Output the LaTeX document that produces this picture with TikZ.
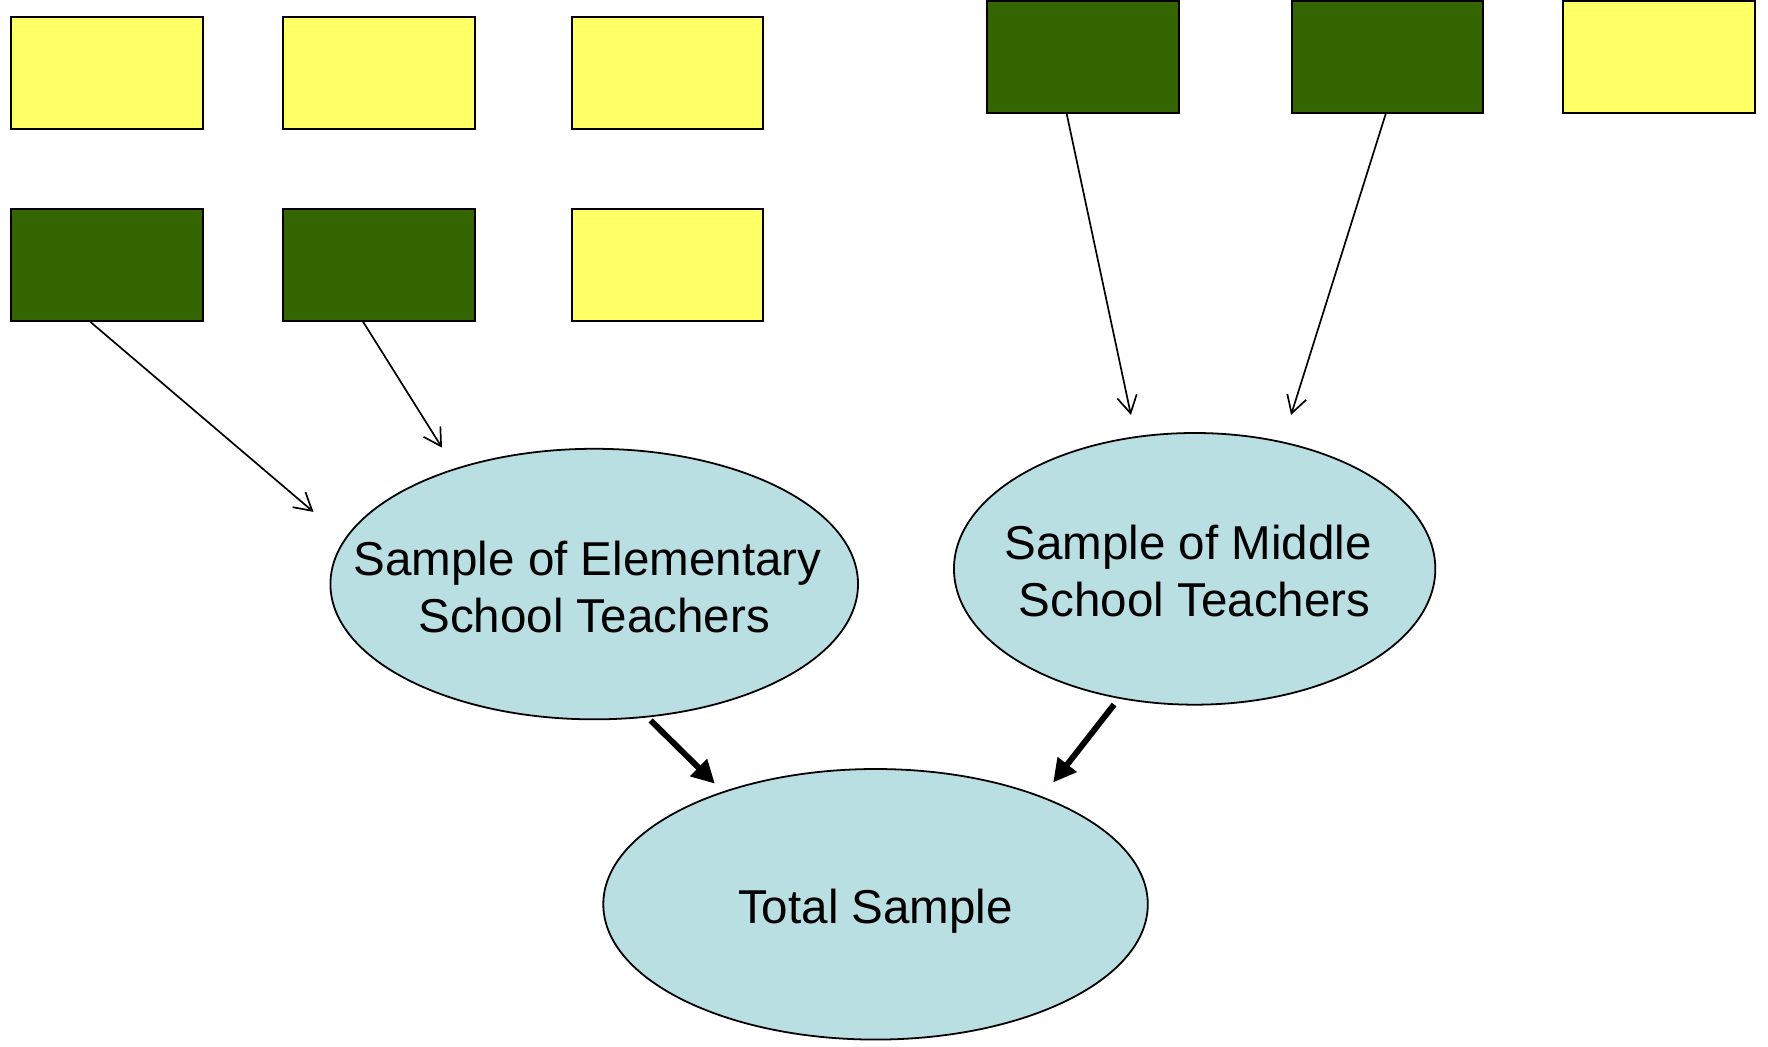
\documentclass[tikz,border=0pt]{standalone}
\usepackage{fontspec}
\setmainfont{Liberation Sans}
\usetikzlibrary{arrows.meta,shapes.geometric}

\definecolor{boxyellow}{HTML}{FFFF66}
\definecolor{boxgreen}{HTML}{336600}
\definecolor{ovalblue}{HTML}{B9DFE3}

\begin{document}
\begin{tikzpicture}[x=0.02cm,y=-0.02cm,
    yel/.style={draw,line width=1pt,fill=boxyellow,minimum width=3.4cm,minimum height=1.98cm,inner sep=0pt},
    grn/.style={yel,fill=boxgreen},
    oval/.style={ellipse,draw,line width=0.9pt,fill=ovalblue,inner sep=0pt},
    ovaltext/.style={align=center,font=\fontsize{24}{29}\selectfont},
    thinarr/.style={->,>={Straight Barb[length=8.7pt,width=10pt]},line width=0.85pt},
    thickarr/.style={->,>={Triangle[length=11.6pt,width=11.6pt]},line width=3pt}]
   \useasboundingbox (0,0) rectangle (1568,928);
   % elementary school rows
   \node[yel] (Y1) at (95,64.5) {};
   \node[yel] (Y2) at (336,64.5) {};
   \node[yel] (Y3) at (592,64.5) {};
   \node[grn] (G1) at (95,235) {};
   \node[grn] (G2) at (336,235) {};
   \node[yel] (Y4) at (592,235) {};
   % middle school row
   \node[grn] (G3) at (960.5,50.5) {};
   \node[grn] (G4) at (1230.5,50.5) {};
   \node[yel] (Y5) at (1471.5,50.5) {};
   % samples
   \node[oval,minimum width=9.36cm,minimum height=4.8cm,
     label={[ovaltext,yshift=-0.05cm]center:Sample of Elementary\hspace*{0.28em}\\School Teachers}] (ES) at (527,518) {};
   \node[oval,minimum width=8.54cm,minimum height=4.82cm,
     label={[ovaltext,yshift=-0.04cm]center:Sample of Middle\hspace*{0.28em}\\School Teachers}] (MS) at (1059.5,504.5) {};
   \node[oval,minimum width=9.66cm,minimum height=4.8cm,
     label={[ovaltext,yshift=-0.12cm]center:Total Sample}] (TS) at (776.5,802) {};
   \coordinate (E1) at (278,454);
   \coordinate (E2) at (392,397);
   \coordinate (M1) at (1003,368);
   \coordinate (M2) at (1145,368);
   \coordinate (T1) at (634,695);
   \coordinate (T2) at (934,694);
   \path[thinarr] ([xshift=-0.3cm]G1.south) edge (E1);
   \path[thinarr] ([xshift=-0.28cm]G2.south) edge (E2);
   \path[thinarr] ([xshift=-0.29cm]G3.south) edge (M1);
   \path[thinarr] ([xshift=-0.03cm]G4.south) edge (M2);
   \path[thickarr] ([yshift=-0.06cm]ES.-67) edge (T1);
   \path[thickarr] ([yshift=-0.12cm]MS.-122) edge (T2);
\end{tikzpicture}
\end{document}
